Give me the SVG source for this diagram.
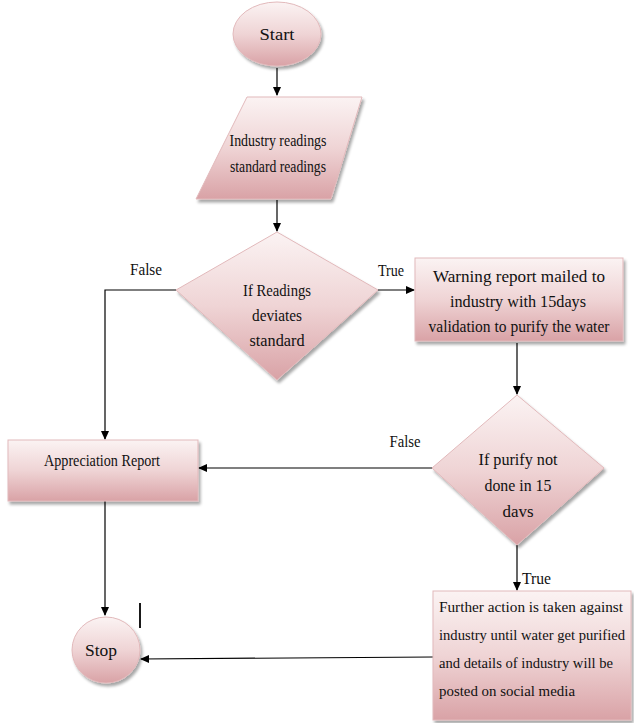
<svg xmlns="http://www.w3.org/2000/svg" width="634" height="723" viewBox="0 0 634 723">
<defs>
<linearGradient id="g" x1="0" y1="0" x2="0" y2="1">
<stop offset="0" stop-color="#fbf3f3"/>
<stop offset="0.5" stop-color="#efd4d5"/>
<stop offset="1" stop-color="#d9a2a6"/>
</linearGradient>
<filter id="sh" x="-10%" y="-10%" width="130%" height="130%">
<feGaussianBlur in="SourceAlpha" stdDeviation="1.5"/>
<feOffset dx="2" dy="3" result="b"/>
<feComponentTransfer><feFuncA type="linear" slope="0.35"/></feComponentTransfer>
<feMerge><feMergeNode/><feMergeNode in="SourceGraphic"/></feMerge>
</filter>
<marker id="ah" markerWidth="10" markerHeight="10" refX="8" refY="5" orient="auto" markerUnits="userSpaceOnUse">
<path d="M0,1 L9,5 L0,9 Z" fill="#000"/>
</marker>
</defs>
<style>
.n{fill:url(#g);stroke:#e2b9bb;stroke-width:1;filter:url(#sh)}
.t{font-family:"Liberation Serif","Times New Roman",serif;font-size:17px;fill:#111}
.l{font-size:16px}
.f{font-size:15px}
.c{text-anchor:middle}
.e{fill:none;stroke:#000;stroke-width:1.2}
</style>
<rect width="634" height="723" fill="#fff"/>

<g id="connectors">
<line class="e" x1="277" y1="68" x2="277" y2="95" marker-end="url(#ah)"/>
<line class="e" x1="277" y1="200" x2="277" y2="231" marker-end="url(#ah)"/>
<polyline class="e" points="176,290 105,290 105,439" marker-end="url(#ah)"/>
<line class="e" x1="378" y1="290" x2="414" y2="290" marker-end="url(#ah)"/>
<line class="e" x1="517" y1="343" x2="517" y2="394" marker-end="url(#ah)"/>
<line class="e" x1="432" y1="468" x2="199" y2="468" marker-end="url(#ah)"/>
<line class="e" x1="105" y1="501" x2="105" y2="615" marker-end="url(#ah)"/>
<line class="e" x1="517" y1="545" x2="517" y2="590" marker-end="url(#ah)"/>
<line class="e" x1="433" y1="657" x2="141" y2="659" marker-end="url(#ah)"/>
<line x1="140" y1="603" x2="140" y2="628" stroke="#000" stroke-width="1.8"/>
<text class="t l c" x="146" y="275" textLength="32" lengthAdjust="spacingAndGlyphs">False</text>
<text class="t l c" x="391" y="276" textLength="26" lengthAdjust="spacingAndGlyphs">True</text>
<text class="t l c" x="405" y="447" textLength="31" lengthAdjust="spacingAndGlyphs">False</text>
<text class="t l" x="522" y="584" textLength="29" lengthAdjust="spacingAndGlyphs">True</text>
</g>

<g id="start">
<ellipse class="n" cx="277" cy="34" rx="44" ry="32"/>
<text class="t c" x="277" y="40" textLength="35" lengthAdjust="spacingAndGlyphs">Start</text>
</g>

<g id="input">
<polygon class="n" points="247,97 362,97 331,199 196,199"/>
<text class="t c" x="278" y="146" textLength="97" lengthAdjust="spacingAndGlyphs">Industry readings</text>
<text class="t c" x="278" y="172" textLength="96" lengthAdjust="spacingAndGlyphs">standard readings</text>
</g>

<g id="decision1">
<polygon class="n" points="277,232 378,290 277,380 176,290"/>
<text class="t c" x="277" y="296" textLength="68" lengthAdjust="spacingAndGlyphs">If Readings</text>
<text class="t c" x="277" y="321" textLength="50" lengthAdjust="spacingAndGlyphs">deviates</text>
<text class="t c" x="277" y="346" textLength="55" lengthAdjust="spacingAndGlyphs">standard</text>
</g>

<g id="warning">
<rect class="n" x="415" y="258" width="208" height="83"/>
<text class="t c" x="519" y="282" textLength="172" lengthAdjust="spacingAndGlyphs">Warning report mailed to</text>
<text class="t c" x="518" y="307" textLength="136" lengthAdjust="spacingAndGlyphs">industry with 15days</text>
<text class="t c" x="519" y="332" textLength="181" lengthAdjust="spacingAndGlyphs">validation to purify the water</text>
</g>

<g id="decision2">
<polygon class="n" points="517,395 604,468 517,545 432,468"/>
<text class="t c" x="518" y="465" textLength="79" lengthAdjust="spacingAndGlyphs">If purify not</text>
<text class="t c" x="518" y="491" textLength="67" lengthAdjust="spacingAndGlyphs">done in 15</text>
<text class="t c" x="518" y="517" textLength="31" lengthAdjust="spacingAndGlyphs">davs</text>
</g>

<g id="appreciation">
<rect class="n" x="8" y="440" width="190" height="61"/>
<text class="t c" x="102" y="466" textLength="116" lengthAdjust="spacingAndGlyphs">Appreciation Report</text>
</g>

<g id="stop">
<ellipse class="n" cx="106" cy="650" rx="34" ry="33"/>
<text class="t c" x="101" y="656" textLength="32" lengthAdjust="spacingAndGlyphs">Stop</text>
</g>

<g id="further">
<rect class="n" x="433" y="591" width="198" height="129"/>
<text class="t f" x="439" y="612" textLength="184" lengthAdjust="spacingAndGlyphs">Further action is taken against</text>
<text class="t f" x="439" y="640" textLength="186" lengthAdjust="spacingAndGlyphs">industry until water get purified</text>
<text class="t f" x="439" y="668" textLength="174" lengthAdjust="spacingAndGlyphs">and details of industry will be</text>
<text class="t f" x="439" y="696" textLength="136" lengthAdjust="spacingAndGlyphs">posted on social media</text>
</g>
</svg>
